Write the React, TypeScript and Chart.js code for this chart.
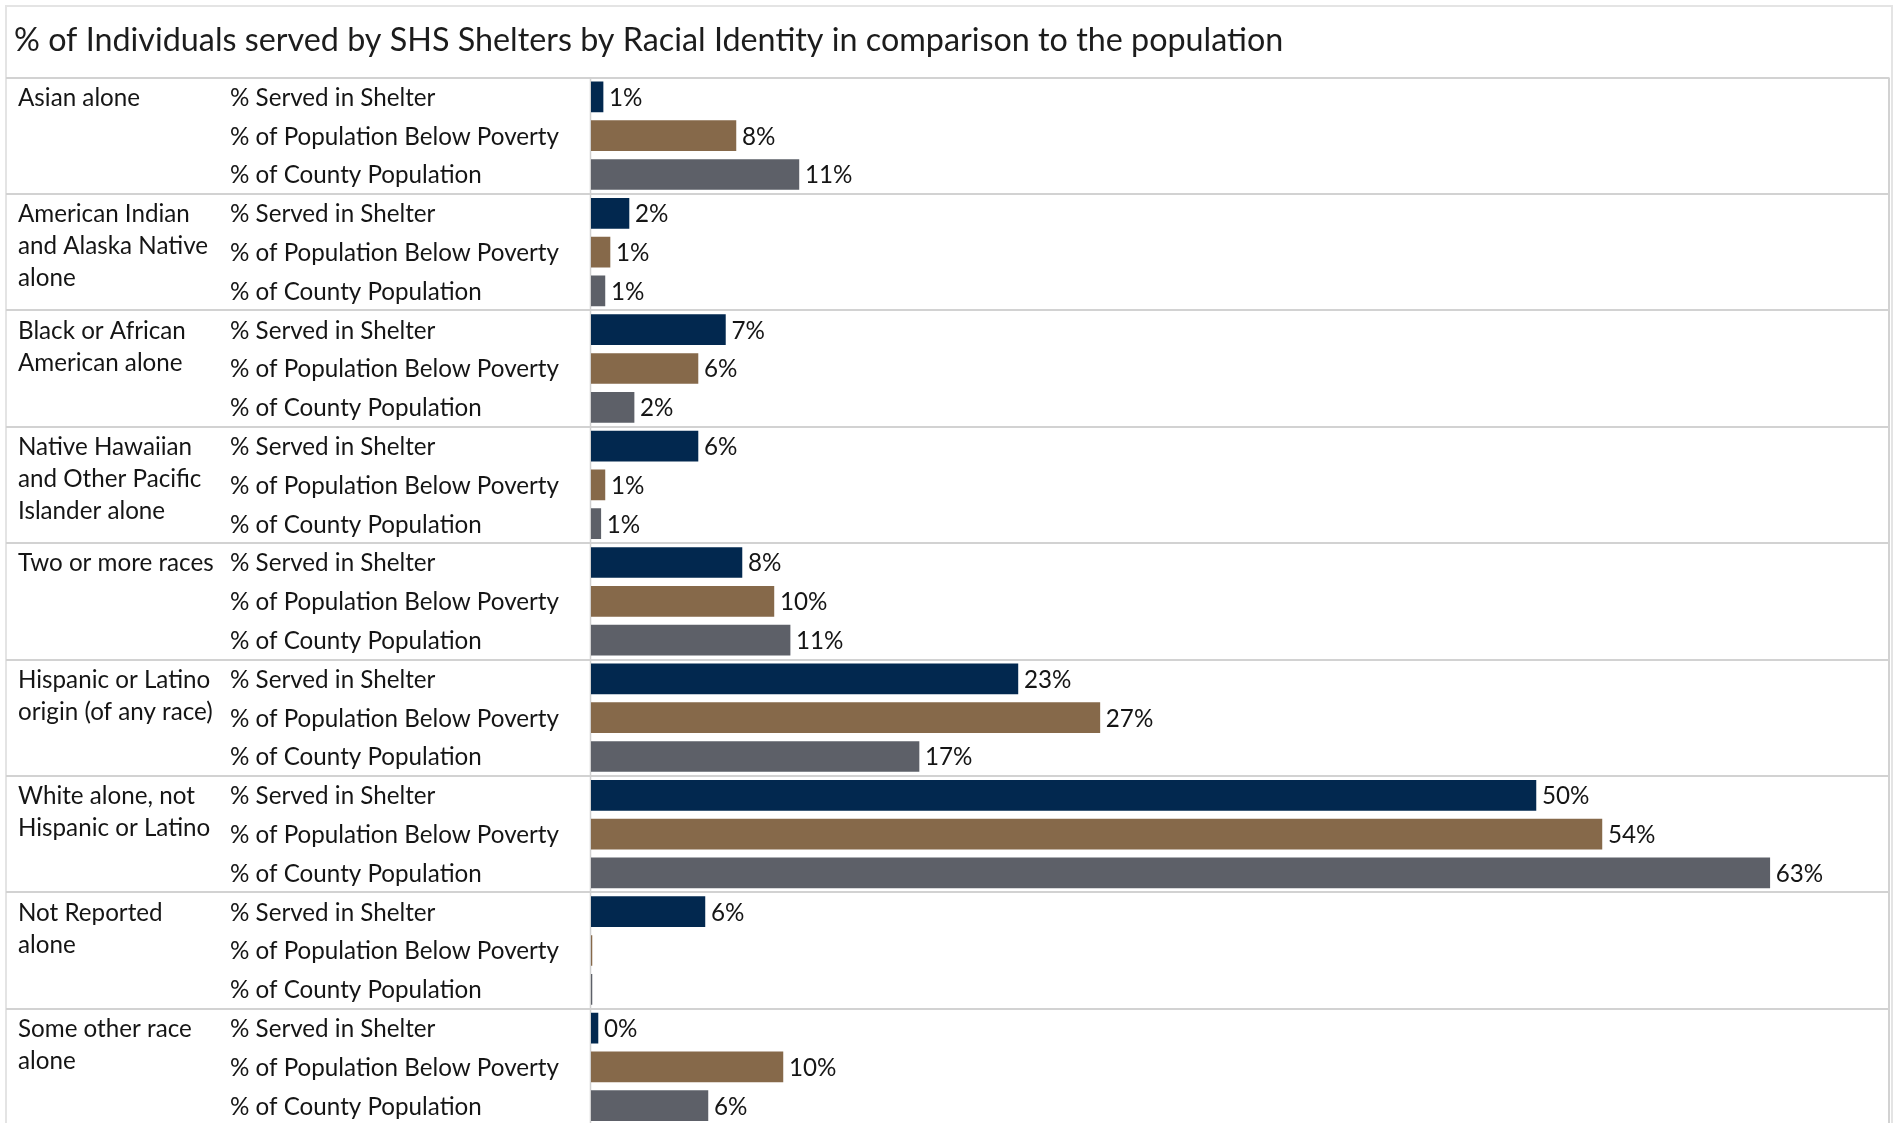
import { useEffect, useRef } from "react";
import { Chart, registerables } from "chart.js";

Chart.register(...registerables);

const chartTitle =
  "% of Individuals served by SHS Shelters by Racial Identity in comparison to the population";

const groups = [
  "Asian alone",
  "American Indian\nand Alaska Native\nalone",
  "Black or African\nAmerican alone",
  "Native Hawaiian\nand Other Pacific\nIslander alone",
  "Two or more races",
  "Hispanic or Latino\norigin (of any race)",
  "White alone, not\nHispanic or Latino",
  "Not Reported\nalone",
  "Some other race\nalone",
];

const measures = [
  "% Served in Shelter",
  "% of Population Below Poverty",
  "% of County Population",
];

// values in percent
const servedInShelter = [0.64, 2.02, 7.15, 5.69, 8.03, 22.71, 50.27, 6.06, 0.37];
const belowPoverty = [7.71, 1.01, 5.69, 0.74, 9.73, 27.07, 53.78, 0.05, 10.21];
const countyPopulation = [11.06, 0.74, 2.29, 0.52, 10.59, 17.45, 62.71, 0.05, 6.22];

const seriesColors = ["#02284f", "#86694a", "#5d6068"];

const FONT = "Lato, 'Open Sans', sans-serif";

export default function App() {
  const ref = useRef<HTMLCanvasElement | null>(null);

  useEffect(() => {
    document.body.style.margin = "0";
    const canvas = ref.current;
    if (!canvas) return;

    const series = [servedInShelter, belowPoverty, countyPopulation];
    const labels: string[] = [];
    const data: number[] = [];
    const colors: string[] = [];
    groups.forEach((_, g) => {
      measures.forEach((m, k) => {
        labels.push(m);
        data.push(series[k][g]);
        colors.push(seriesColors[k]);
      });
    });
    const nRows = labels.length;

    const decor = {
      id: "decor",
      beforeDatasetsDraw(chart: any) {
        const ctx = chart.ctx as CanvasRenderingContext2D;
        const { top, bottom } = chart.chartArea;
        const ys = chart.scales.y;
        const xs = chart.scales.x;
        const rowH = (bottom - top) / nRows;
        ctx.save();
        // outer frame
        ctx.strokeStyle = "#e4e4e4";
        ctx.lineWidth = 2;
        ctx.strokeRect(6, 6, 1886, 1300);
        // group separators
        ctx.strokeStyle = "#d2d2d2";
        ctx.lineWidth = 2;
        for (let g = 0; g <= groups.length; g++) {
          const yy = Math.round(ys.getPixelForValue(g * 3) - rowH / 2);
          ctx.beginPath();
          ctx.moveTo(6, yy);
          ctx.lineTo(1889, yy);
          ctx.stroke();
        }
        // right edge of table
        ctx.beginPath();
        ctx.moveTo(1889, top);
        ctx.lineTo(1889, 1200);
        ctx.stroke();
        // zero axis line
        const x0 = Math.round(xs.getPixelForValue(0)) - 0.5;
        ctx.strokeStyle = "#d0d0d0";
        ctx.lineWidth = 1.5;
        ctx.beginPath();
        ctx.moveTo(x0, top);
        ctx.lineTo(x0, 1200);
        ctx.stroke();
        ctx.restore();
      },
      afterDatasetsDraw(chart: any) {
        const ctx = chart.ctx as CanvasRenderingContext2D;
        const ys = chart.scales.y;
        ctx.save();
        // title
        ctx.fillStyle = "#1c1c1c";
        ctx.font = `32.3px ${FONT}`;
        ctx.textBaseline = "middle";
        ctx.textAlign = "left";
        ctx.fillText(chartTitle, 14, 41);

        ctx.font = `24.2px ${FONT}`;
        ctx.fillStyle = "#151515";
        // group labels
        groups.forEach((gName, g) => {
          const y0 = ys.getPixelForValue(g * 3) + 1;
          gName.split("\n").forEach((line, i) => {
            ctx.fillText(line, 18, y0 + i * 32);
          });
        });
        // measure labels
        labels.forEach((lab, i) => {
          ctx.fillText(lab, 230, ys.getPixelForValue(i) + 1);
        });
        // data labels
        const meta = chart.getDatasetMeta(0);
        meta.data.forEach((el: any, i: number) => {
          const v = data[i];
          if (v == null || v < 0.1) return;
          ctx.fillText(`${Math.round(v)}%`, el.x + 6, el.y + 1);
        });
        ctx.restore();
      },
    };

    const chart = new Chart(canvas, {
      type: "bar",
      data: {
        labels,
        datasets: [
          {
            data,
            backgroundColor: colors,
            borderWidth: 0,
            barThickness: 30,
          },
        ],
      },
      options: {
        indexAxis: "y",
        responsive: false,
        maintainAspectRatio: false,
        animation: false,
        layout: { padding: { left: 591, right: 8, top: 77.5, bottom: 4.9 } },
        plugins: {
          legend: { display: false },
          tooltip: { enabled: false },
          title: { display: false },
        },
        scales: {
          x: { display: false, min: 0, max: 69 },
          y: { display: false, offset: true },
        },
      },
      plugins: [decor],
    });

    return () => chart.destroy();
  }, []);

  return (
    <div
      style={{
        position: "fixed",
        left: 0,
        top: 0,
        width: 1896,
        height: 1123,
        overflow: "hidden",
        background: "#ffffff",
      }}
    >
      <canvas ref={ref} width={1896} height={1130} style={{ display: "block" }} />
    </div>
  );
}
